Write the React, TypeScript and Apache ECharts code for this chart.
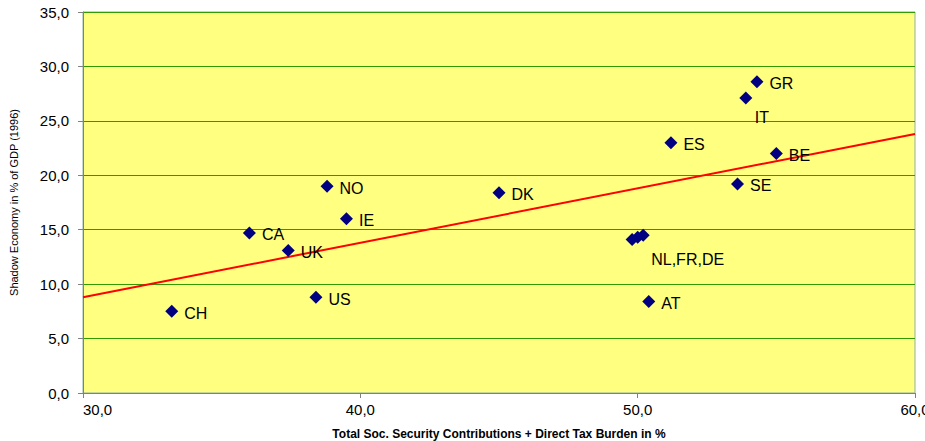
import React, { useEffect, useRef } from "react";
import * as echarts from "echarts";

const countries = ["CH", "CA", "UK", "US", "NO", "IE", "DK", "ES", "GR", "IT", "BE", "SE", "NL", "FR", "DE", "AT"];
const taxBurden = [33.2, 36.0, 37.4, 38.4, 38.8, 39.5, 45.0, 51.2, 54.3, 53.9, 55.0, 53.6, 49.8, 50.0, 50.2, 50.4];
const shadowEconomy = [7.5, 14.7, 13.1, 8.8, 19.0, 16.0, 18.4, 23.0, 28.6, 27.1, 22.0, 19.2, 14.1, 14.3, 14.5, 8.4];
const labelText = ["CH", "CA", "UK", "US", "NO", "IE", "DK", "ES", "GR", "IT", "BE", "SE", "", "NL,FR,DE", "", "AT"];
const labelPos = ["right", "right", "right", "right", "right", "right", "right", "right", "right", "below", "right", "right", "right", "below", "right", "right"];
const trendX = [30, 60];
const trendY = [8.8, 23.8];

const fmt = (v: number) => v.toFixed(1).replace(".", ",");

export default function App() {
  const ref = useRef<HTMLDivElement>(null);
  useEffect(() => {
    const chart = echarts.init(ref.current!, null, { renderer: "svg" });
    const font = "'Liberation Sans', Arial, sans-serif";
    const points = countries.map((c, i) => {
      const pos = labelPos[i];
      const isGroup = labelText[i] === "NL,FR,DE";
      return {
        name: c,
        value: [taxBurden[i], shadowEconomy[i]],
        label: {
          show: labelText[i] !== "",
          formatter: labelText[i],
          position: pos === "below" ? "bottom" : "right",
          distance: pos === "below" ? 8 : 6,
          offset: pos === "below" ? (isGroup ? [50, 0] : [16, -3]) : [0, 2],
        },
      };
    });
    chart.setOption({
      animation: false,
      textStyle: { fontFamily: font },
      grid: {
        left: 83,
        right: 10,
        top: 12,
        bottom: 48,
        outerBoundsMode: "none",
        containLabel: false,
        show: true,
        backgroundColor: "#FFFF80",
        borderColor: "#8fb0a8",
        borderWidth: 1,
      },
      xAxis: {
        type: "value",
        min: 30,
        max: 60,
        interval: 10,
        name: "Total Soc. Security Contributions + Direct Tax Burden in %",
        nameLocation: "middle",
        nameGap: 35,
        nameTextStyle: { fontSize: 12, fontWeight: "bold", color: "#000", fontFamily: font },
        axisLine: { show: true, lineStyle: { color: "#808080", width: 1 } },
        axisTick: { show: true, inside: false, length: 5, lineStyle: { color: "#808080" } },
        axisLabel: { formatter: fmt, fontSize: 15, color: "#000", margin: 9, fontFamily: font, showMaxLabel: true, alignMinLabel: "left" },
        splitLine: { show: false },
      },
      yAxis: {
        type: "value",
        min: 0,
        max: 35,
        interval: 5,
        name: "Shadow Economy in % of GDP (1996)",
        nameLocation: "middle",
        nameGap: 64,
        nameRotate: 90,
        nameTextStyle: { fontSize: 11, color: "#000", fontFamily: font },
        axisLine: { show: true, lineStyle: { color: "#808080", width: 1 } },
        axisTick: { show: true, inside: false, length: 5, lineStyle: { color: "#808080" } },
        axisLabel: { formatter: fmt, fontSize: 15, color: "#000", margin: 14, fontFamily: font },
        splitLine: { show: true, lineStyle: { color: "#339900", width: 1 } },
      },
      series: [
        {
          type: "line",
          data: trendX.map((x, i) => [x, trendY[i]]),
          showSymbol: false,
          symbol: "none",
          lineStyle: { color: "#FF0000", width: 2 },
          z: 2,
        },
        {
          type: "scatter",
          symbol: "diamond",
          symbolSize: 13,
          itemStyle: { color: "#000080", opacity: 1 },
          label: { color: "#000", fontSize: 16, fontFamily: font },
          data: points,
          z: 3,
        },
      ],
    });
    return () => chart.dispose();
  }, []);
  return <div ref={ref} style={{ width: 925, height: 441, position: "absolute", left: 0, top: 0, background: "#fff" }} />;
}
